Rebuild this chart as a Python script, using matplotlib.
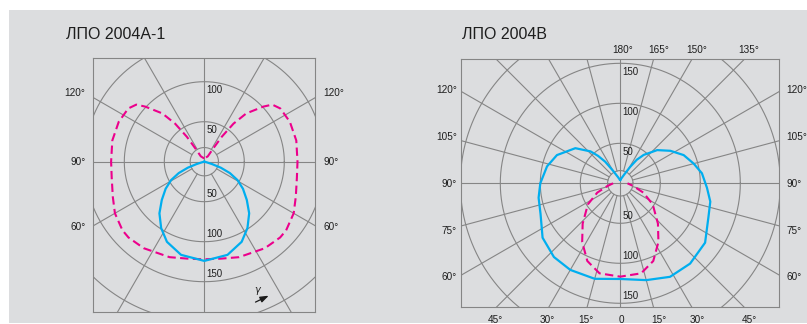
import numpy as np
import matplotlib
matplotlib.use("Agg")
import matplotlib.pyplot as plt
from matplotlib.patches import Rectangle

W, H, DPI = 807, 324, 100
PX_PER_CD = 0.8          # drawing scale: pixels per cd/klm

# ---------------- ЛПО 2004А-1 (symmetric curves) ----------------
title_a = "ЛПО 2004А-1"
a_blue_angle = [0, 14, 25, 33, 41, 48, 55, 61, 66, 70, 73, 76, 90]
a_blue_cd    = [124, 120, 110.5, 99, 85.5, 71.5, 59, 47.5, 35, 22, 10, 3, 0]
a_pink_angle = [0, 10, 20, 35, 45, 50, 60, 69, 80, 90, 103, 115, 125, 130,
                133, 139, 142.5, 145, 146, 147, 180]
a_pink_cd    = [122, 123, 127, 132, 134, 133.5, 129, 122.5, 117.5, 116.5, 118,
                118, 116, 111, 101, 80, 60, 38, 20, 8, 4]
a_rings = [50, 100, 150, 200]
a_ring_labels_up = [50, 100]
a_ring_labels_down = [50, 100, 150]
a_side_angles = [120, 90, 60]

# ---------------- ЛПО 2004В ----------------
title_b = "ЛПО 2004В"
b_blue_angle_right = [0, 15, 28, 41, 55, 69, 78.5, 87, 97, 105, 114, 123, 132,
                      140.5, 145, 149, 155, 165, 180]
b_blue_cd_right    = [119.6, 125.3, 132.4, 133, 129.4, 118, 114.8, 108.5, 102.8,
                      95, 86.7, 74.6, 62, 46, 36, 24, 13, 7, 4.2]
b_blue_angle_left  = [0, 15, 30, 42, 55, 69, 80, 90, 103, 114, 128, 137, 141,
                      145, 150, 160, 170, 180]
b_blue_cd_left     = [119.6, 123.6, 125, 124, 118.6, 106.8, 103.7, 100, 94,
                      86.7, 71.3, 54.5, 44, 33, 18, 8, 5, 4.2]
b_pink_angle = [0, 13, 23, 33, 43, 57, 68, 78, 90]
b_pink_cd    = [116.7, 115.5, 105.5, 87.5, 69, 48.3, 31, 16.6, 9]
b_rings = [50, 100, 150, 200]
b_ring_labels_up = [50, 100, 150]
b_ring_labels_down = [50, 100, 150]
b_side_angles = [120, 105, 90, 75, 60]
b_top_angles = [180, 165, 150, 135]
b_bottom_angles = [-45, -30, -15, 0, 15, 30, 45]

BLUE = "#00aeef"
PINK = "#ec008c"
GRID = "#858585"
PANEL = "#dcdddf"
TEXT = "#1e1e1e"
FONT = "Liberation Sans"
DASH = (0, (4.0, 2.1))


def to_xy(angle, cd, side=1.0):
    a = np.radians(np.asarray(angle, float))
    r = np.asarray(cd, float)
    return side * r * np.sin(a), -r * np.cos(a)


def symmetric(angle, cd):
    xr, yr = to_xy(angle, cd, 1)
    xl, yl = to_xy(angle, cd, -1)
    return np.r_[xl[::-1], xr[1:]], np.r_[yl[::-1], yr[1:]]


def asymmetric(angle_l, cd_l, angle_r, cd_r):
    xr, yr = to_xy(angle_r, cd_r, 1)
    xl, yl = to_xy(angle_l, cd_l, -1)
    return np.r_[xl[::-1], xr[1:]], np.r_[yl[::-1], yr[1:]]


def make_axes(fig, left, right, top, bottom, cx, cy):
    ax = fig.add_axes([left / W, 1 - bottom / H, (right - left) / W, (bottom - top) / H])
    ax.set_xlim((left - cx) / PX_PER_CD, (right - cx) / PX_PER_CD)
    ax.set_ylim(-(bottom - cy) / PX_PER_CD, (cy - top) / PX_PER_CD)
    ax.set_facecolor("none")
    ax.set_xticks([])
    ax.set_yticks([])
    for s in ax.spines.values():
        s.set_color(GRID)
        s.set_linewidth(0.8)
    return ax


def draw_grid(ax, rings, step, r_inner):
    t = np.linspace(0, 2 * np.pi, 721)
    for R in rings + [r_inner]:
        ax.plot(R * np.cos(t), R * np.sin(t), color=GRID, lw=0.8, zorder=1)
    for a in range(0, 360, step):
        d = np.radians(a)
        r0 = 0 if a % 90 == 0 else r_inner
        ax.plot([r0 * np.sin(d), 400 * np.sin(d)], [-r0 * np.cos(d), -400 * np.cos(d)],
                color=GRID, lw=0.8, zorder=1)


def ring_labels(ax, up, down, size):
    base = 3.5 / PX_PER_CD     # half cap height, for baseline placement
    for R in up:
        ax.text(3, R - 10 - base, str(R), fontsize=size, color=TEXT,
                family=FONT, ha="left", va="baseline", zorder=3)
    for R in down:
        ax.text(3, -(R - 10) - base, str(R), fontsize=size, color=TEXT,
                family=FONT, ha="left", va="baseline", zorder=3)


fig = plt.figure(figsize=(W / DPI, H / DPI), dpi=DPI)
fig.patches.append(Rectangle((9 / W, 1 - 323 / H), 798 / W, 313 / H,
                             transform=fig.transFigure, facecolor=PANEL,
                             edgecolor="none", zorder=-5))

LBL = 7.2
base = 3.6 / PX_PER_CD

# ---- left diagram ----
axa = make_axes(fig, 93, 315.3, 58.3, 312.3, 204.3, 161.7)
draw_grid(axa, a_rings, 30, 17.7)
x, y = symmetric(a_pink_angle, a_pink_cd)
axa.plot(x, y, color=PINK, lw=1.5, linestyle=DASH, zorder=2)
x, y = symmetric(a_blue_angle, a_blue_cd)
axa.plot(x, y, color=BLUE, lw=1.6, zorder=2)
ring_labels(axa, a_ring_labels_up, a_ring_labels_down, 7)
x_edge = 139.1
for a in a_side_angles:
    yy = -x_edge / np.tan(np.radians(a)) if a != 90 else 0.0
    yy += 6 if a > 90 else (-1 if a < 90 else 0)
    axa.text(-148.5, yy - base, f"{a}°", fontsize=LBL, color=TEXT, family=FONT,
             ha="right", va="baseline")
    axa.text(148.5, yy - base, f"{a}°", fontsize=LBL, color=TEXT, family=FONT,
             ha="left", va="baseline")
axa.text(65.5, -160, "γ", fontsize=7, color=TEXT, family="DejaVu Sans",
         ha="center", va="center", style="italic")
axa.annotate("", xy=(80.5, -167.5), xytext=(64, -175.5),
             arrowprops=dict(arrowstyle="-|>,head_length=0.5,head_width=0.18",
                             color="#1a1a1a", lw=0.9, shrinkA=0, shrinkB=0))
fig.text(66 / W, 1 - 39.3 / H, title_a, fontsize=11.5, color=TEXT, family=FONT,
         ha="left", va="baseline")

# ---- right diagram ----
axb = make_axes(fig, 461, 779.3, 59, 307, 620.3, 183.3)
draw_grid(axb, b_rings, 15, 15.9)
x, y = symmetric(b_pink_angle, b_pink_cd)
axb.plot(x, y, color=PINK, lw=1.5, linestyle=DASH, zorder=2)
x, y = asymmetric(b_blue_angle_left, b_blue_cd_left, b_blue_angle_right, b_blue_cd_right)
axb.plot(x, y, color=BLUE, lw=1.6, zorder=2)
ring_labels(axb, b_ring_labels_up, b_ring_labels_down, 7)
for a in b_side_angles:
    yy = (a - 90) / 15 * 58.5
    axb.text(-204.5, yy - base, f"{a}°", fontsize=LBL, color=TEXT, family=FONT,
             ha="right", va="baseline")
    axb.text(208, yy - base, f"{a}°", fontsize=LBL, color=TEXT, family=FONT,
             ha="left", va="baseline")
edge_pos = {0: 0.0, 15: 45.5, 30: 93.5, 45: 158.5}
for a in b_top_angles:
    k = 180 - a
    axb.text(edge_pos[k] + 2.5, 167.5 - base, f"{a}°", fontsize=LBL, color=TEXT,
             family=FONT, ha="center", va="baseline")
bottom_base = -(323 - 183.3) / PX_PER_CD
for a in b_bottom_angles:
    xx = np.sign(a) * edge_pos[abs(a)] + 2.5
    label = "0" if a == 0 else f"{abs(a)}°"
    axb.text(xx if a != 0 else 0.9, bottom_base, label, fontsize=LBL, color=TEXT,
             family=FONT, ha="center", va="baseline")
fig.text(461.7 / W, 1 - 39.3 / H, title_b, fontsize=11.5, color=TEXT, family=FONT,
         ha="left", va="baseline")

fig.savefig("out.png", dpi=DPI, facecolor="white")
